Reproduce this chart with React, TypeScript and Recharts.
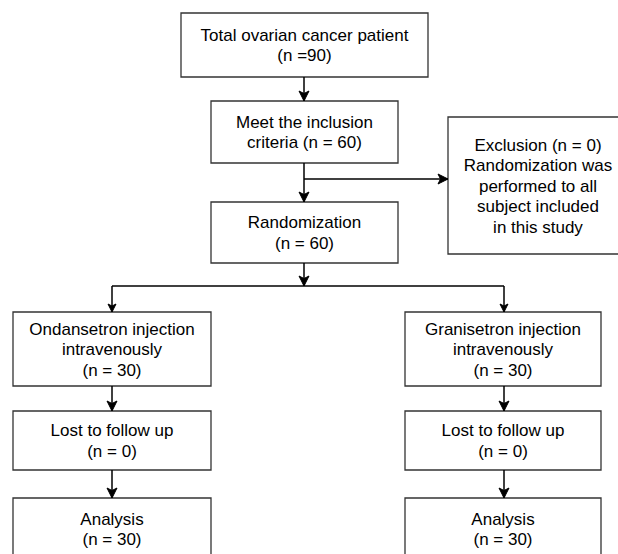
import React from 'react';
import { ScatterChart, Scatter, XAxis, YAxis, ReferenceArea, ReferenceLine } from 'recharts';

// box texts, one entry per node
const nodeLabels: string[][] = [
  ['Total ovarian cancer patient', '(n =90)'],
  ['Meet the inclusion', 'criteria (n = 60)'],
  ['Exclusion (n = 0)', 'Randomization was', 'performed to all', 'subject included', 'in this study'],
  ['Randomization', '(n = 60)'],
  ['Ondansetron injection', 'intravenously', '(n = 30)'],
  ['Granisetron injection', 'intravenously', '(n = 30)'],
  ['Lost to follow up', '(n = 0)'],
  ['Lost to follow up', '(n = 0)'],
  ['Analysis', '(n = 30)'],
  ['Analysis', '(n = 30)'],
];

// node layout in chart units: [x1, x2, y1, y2]
const nodeBoxes: number[][] = [
  [181, 428, 13, 77],
  [211, 398, 101, 163],
  [448, 630, 117, 254],
  [211, 398, 202, 263],
  [13, 211, 312, 386],
  [405, 601, 312, 386],
  [13, 211, 411, 470],
  [405, 601, 411, 470],
  [13, 211, 498, 560],
  [405, 601, 498, 560],
];

// connectors: [x1, y1, x2, y2, arrow size (0 = no head)], head direction follows the segment
const links: number[][] = [
  [304, 77, 304, 101, 10],
  [304, 163, 304, 202, 10],
  [304, 179, 448, 179, 10],
  [304, 263, 304, 286, 10],
  [112, 286, 504, 286, 0],
  [112, 286, 112, 312, 8],
  [504, 286, 504, 312, 8],
  [112, 386, 112, 411, 10],
  [504, 386, 504, 411, 10],
  [112, 470, 112, 498, 10],
  [504, 470, 504, 498, 10],
];

const W = 618;
const H = 554;
const LINE_H = 20.5;

const textPoints = nodeBoxes.map((b, i) => ({
  x: i === 2 ? 538 : (b[0] + b[1]) / 2,
  y: (b[2] + Math.min(b[3], H + 6)) / 2,
  lines: nodeLabels[i],
}));

const headPoints = links
  .filter((l) => l[4] > 0)
  .map((l) => ({ x: l[2], y: l[3], size: l[4], dir: l[0] === l[2] ? 'down' : 'right' }));

const TextShape = (props: any) => {
  const { cx, cy, payload } = props;
  const lines: string[] = payload.lines;
  const top = cy - ((lines.length - 1) * LINE_H) / 2;
  return (
    <text
      x={cx}
      textAnchor="middle"
      fontFamily="'Liberation Sans', Arial, sans-serif"
      fontSize={17}
      fill="#000"
    >
      {lines.map((t, i) => (
        <tspan key={i} x={cx} y={top + i * LINE_H} dy="0.36em">
          {t}
        </tspan>
      ))}
    </text>
  );
};

const HeadShape = (props: any) => {
  const { cx, cy, payload } = props;
  const s = payload.size;
  const h = s / 2;
  const pts =
    payload.dir === 'down'
      ? `${cx - h},${cy - s} ${cx},${cy - s * 0.75} ${cx + h},${cy - s} ${cx},${cy}`
      : `${cx - s},${cy - h} ${cx - s * 0.75},${cy} ${cx - s},${cy + h} ${cx},${cy}`;
  return <polygon points={pts} fill="#000" stroke="#000" strokeWidth={1} />;
};

export default function App() {
  return (
    <div style={{ position: 'absolute', left: 0, top: 0, width: W, height: H, background: '#fff' }}>
      <ScatterChart width={W} height={H} margin={{ top: 0, right: 0, bottom: 0, left: 0 }}>
        <XAxis type="number" dataKey="x" domain={[0, W]} hide allowDataOverflow />
        <YAxis type="number" dataKey="y" domain={[0, H]} reversed hide allowDataOverflow />
        {links.map((l, i) => (
          <ReferenceLine
            key={`l${i}`}
            segment={[{ x: l[0], y: l[1] }, { x: l[2], y: l[3] }]}
            stroke="#000"
            strokeWidth={1.5}
            ifOverflow="visible"
          />
        ))}
        {nodeBoxes.map((b, i) => (
          <ReferenceArea
            key={`b${i}`}
            x1={b[0]}
            x2={b[1]}
            y1={b[2]}
            y2={b[3]}
            fill="#fff"
            fillOpacity={1}
            stroke="#333"
            strokeWidth={1.3}
            ifOverflow="visible"
          />
        ))}
        <Scatter data={headPoints} shape={HeadShape} isAnimationActive={false} />
        <Scatter data={textPoints} shape={TextShape} isAnimationActive={false} />
      </ScatterChart>
    </div>
  );
}
